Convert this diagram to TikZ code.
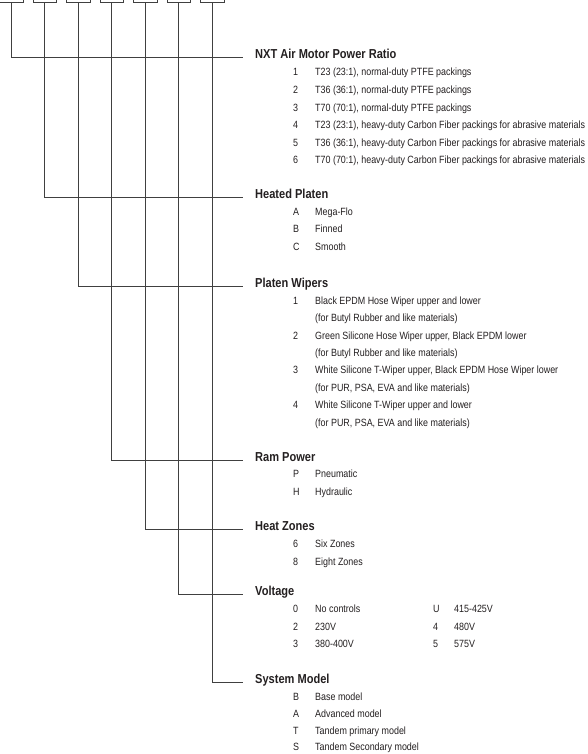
\documentclass[tikz,border=0pt]{standalone}
\usepackage{fontspec}
\setmainfont{Liberation Sans}[FakeStretch=0.85]
\definecolor{linec}{HTML}{404040}
\definecolor{textc}{HTML}{231F20}
\tikzset{
  codebox/.style={draw=linec, line width=0.9pt, minimum width=23.4pt, minimum height=30pt, inner sep=0pt, anchor=south},
  conn/.style={draw=linec, line width=0.9pt},
  head/.style={font=\bfseries\fontsize{13}{15}\selectfont, anchor=base west, inner sep=0pt, text=textc},
  item/.style={font=\fontsize{10.5}{12}\selectfont, anchor=base west, inner sep=0pt, text=textc},
}
\begin{document}
\begin{tikzpicture}[x=1pt,y=-1pt]
\useasboundingbox (0,0) rectangle (587,754);
\clip (0,0) rectangle (587,754);
% code boxes
\node[codebox] (b1) at (11.3,3) {};
\node[codebox] (b2) at (44.8,3) {};
\node[codebox] (b3) at (78.3,3) {};
\node[codebox] (b4) at (111.8,3) {};
\node[codebox] (b5) at (145.3,3) {};
\node[codebox] (b6) at (178.8,3) {};
\node[codebox] (b7) at (212.3,3) {};
% connector ends
\coordinate (e1) at (243,57.7);
\coordinate (e2) at (243,197);
\coordinate (e3) at (243,286.5);
\coordinate (e4) at (243,460);
\coordinate (e5) at (243,529.5);
\coordinate (e6) at (243,594.3);
\coordinate (e7) at (243,682.3);
\draw[conn] (b1.south) |- (e1);
\draw[conn] (b2.south) |- (e2);
\draw[conn] (b3.south) |- (e3);
\draw[conn] (b4.south) |- (e4);
\draw[conn] (b5.south) |- (e5);
\draw[conn] (b6.south) |- (e6);
\draw[conn] (b7.south) |- (e7);
% headings
\node[head] (h1) at (255,59) {NXT Air Motor Power Ratio};
\node[head] (h2) at (255,198.3) {Heated Platen};
\node[head] (h3) at (255,287.8) {Platen Wipers};
\node[head] (h4) at (255,461.3) {Ram Power};
\node[head] (h5) at (255,530.8) {Heat Zones};
\node[head] (h6) at (255,595.6) {Voltage};
\node[head] (h7) at (255,683.6) {System Model};
% section 1
\foreach \c/\t [count=\j from 0] in {1/{T23 (23:1), normal-duty PTFE packings},
  2/{T36 (36:1), normal-duty PTFE packings},
  3/{T70 (70:1), normal-duty PTFE packings},
  4/{T23 (23:1), heavy-duty Carbon Fiber packings for abrasive materials},
  5/{T36 (36:1), heavy-duty Carbon Fiber packings for abrasive materials},
  6/{T70 (70:1), heavy-duty Carbon Fiber packings for abrasive materials}}{
  \node[item] (c1-\j) at (293,{76+17.6*\j}) {\c};
  \node[item] (d1-\j) at (315,{76+17.6*\j}) {\t};
}
% section 2
\foreach \c/\t [count=\j from 0] in {A/Mega-Flo, B/Finned, C/Smooth}{
  \node[item] (c2-\j) at (293,{215.3+17.5*\j}) {\c};
  \node[item] (d2-\j) at (315,{215.3+17.5*\j}) {\t};
}
% section 3
\node[item] (c3-0) at (293,304.3) {1};
\node[item] (d3-0) at (315,304.3) {Black EPDM Hose Wiper upper and lower};
\node[item] (d3-1) at (315,321.7) {(for Butyl Rubber and like materials)};
\node[item] (c3-2) at (293,339.1) {2};
\node[item] (d3-2) at (315,339.1) {Green Silicone Hose Wiper upper, Black EPDM lower};
\node[item] (d3-3) at (315,356.5) {(for Butyl Rubber and like materials)};
\node[item] (c3-4) at (293,373.9) {3};
\node[item] (d3-4) at (315,373.9) {White Silicone T-Wiper upper, Black EPDM Hose Wiper lower};
\node[item] (d3-5) at (315,391.3) {(for PUR, PSA, EVA and like materials)};
\node[item] (c3-6) at (293,408.7) {4};
\node[item] (d3-6) at (315,408.7) {White Silicone T-Wiper upper and lower};
\node[item] (d3-7) at (315,426.1) {(for PUR, PSA, EVA and like materials)};
% section 4
\foreach \c/\t [count=\j from 0] in {P/Pneumatic, H/Hydraulic}{
  \node[item] (c4-\j) at (293,{477.9+17.4*\j}) {\c};
  \node[item] (d4-\j) at (315,{477.9+17.4*\j}) {\t};
}
% section 5
\foreach \c/\t [count=\j from 0] in {6/Six Zones, 8/Eight Zones}{
  \node[item] (c5-\j) at (293,{547.7+17.4*\j}) {\c};
  \node[item] (d5-\j) at (315,{547.7+17.4*\j}) {\t};
}
% section 6
\foreach \c/\t/\u/\v [count=\j from 0] in {0/No controls/U/415-425V, 2/230V/4/480V, 3/380-400V/5/575V}{
  \node[item] (c6-\j) at (293,{612.9+17.4*\j}) {\c};
  \node[item] (d6-\j) at (315,{612.9+17.4*\j}) {\t};
  \node[item] (u6-\j) at (433,{612.9+17.4*\j}) {\u};
  \node[item] (v6-\j) at (454,{612.9+17.4*\j}) {\v};
}
% section 7
\foreach \c/\t [count=\j from 0] in {B/Base model, A/Advanced model, T/Tandem primary model, S/Tandem Secondary model}{
  \node[item] (c7-\j) at (293,{700.4+16.8*\j}) {\c};
  \node[item] (d7-\j) at (315,{700.4+16.8*\j}) {\t};
}
\end{tikzpicture}
\end{document}
